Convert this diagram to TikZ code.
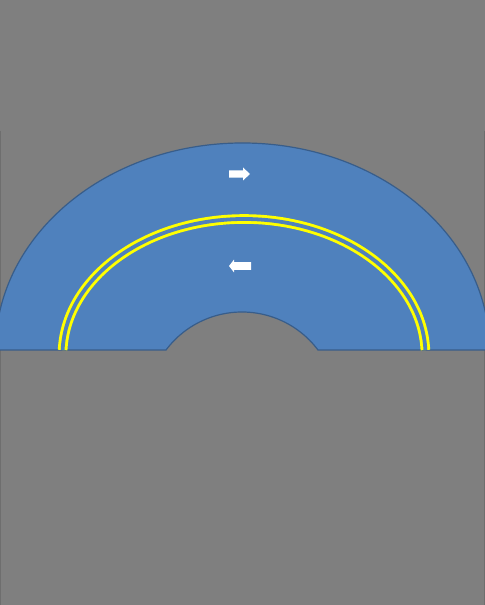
\documentclass[tikz,border=0pt]{standalone}
\usepackage{tikz}
\usetikzlibrary{calc}
\definecolor{bggray}{RGB}{127,127,127}
\definecolor{edgegray}{RGB}{110,110,110}
\definecolor{roadblue}{RGB}{79,129,189}
\definecolor{roadedge}{RGB}{56,93,138}
\definecolor{laneyellow}{RGB}{255,255,0}
\tikzset{
  road/.style={fill=roadblue, draw=roadedge, line width=0.6pt},
  laneline/.style={draw=laneyellow, line width=1.45pt, double=roadblue, double distance=1.9pt},
  sign/.style={fill=white, draw=none},
  rim/.style={draw=edgegray, line width=0.5pt}
}
\begin{document}
\begin{tikzpicture}[x=0.5pt, y=0.5pt]
  \useasboundingbox (0,0) rectangle (485,605);
  \fill[bggray] (0,0) rectangle (485,605);
  % faint frame edges
  \coordinate (lt) at (0.5,474);
  \coordinate (lb) at (0.5,0);
  \coordinate (rt) at (484.5,474);
  \coordinate (rb) at (484.5,0);
  \draw[rim] (lt) -- (lb);
  \draw[rim] (rt) -- (rb);
  % road band
  \draw[road] (-4.5,255) arc[start angle=180, end angle=0, x radius=247, y radius=207]
    -- (318,255) arc[start angle=36.87, end angle=143.13, radius=95] -- cycle;
  % centre line
  \draw[laneline] (244,250) ++(2.1:181.5 and 136)
    arc[start angle=2.1, end angle=177.9, x radius=181.5, y radius=136];
  % lane arrows
  \fill[sign] (229,427.3) -- (243,427.3) -- (243,424.5) -- (250,431)
    -- (243,437.5) -- (243,434.7) -- (229,434.7) -- cycle;
  \fill[sign] (251,335.2) -- (234,335.2) -- (234,332.6) -- (229,339)
    -- (234,345.4) -- (234,342.8) -- (251,342.8) -- cycle;
\end{tikzpicture}
\end{document}
